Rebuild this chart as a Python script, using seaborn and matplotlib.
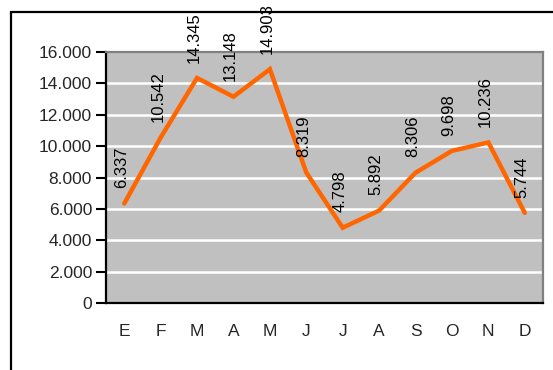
import numpy as np
import matplotlib.pyplot as plt
import matplotlib.patches as mpatches
import seaborn as sns
import pandas as pd

meses = ['E', 'F', 'M', 'A', 'M', 'J', 'J', 'A', 'S', 'O', 'N', 'D']
valores = [6337, 10542, 14345, 13148, 14903, 8319, 4798, 5892, 8306, 9698, 10236, 5744]
yticks = [0, 2000, 4000, 6000, 8000, 10000, 12000, 14000, 16000]

def miles(v):
    return f'{v:,}'.replace(',', '.')

df = pd.DataFrame({'pos': np.arange(len(meses)), 'valor': valores})

sns.set_style('white')
plt.rcParams['font.family'] = ['Liberation Sans', 'DejaVu Sans']

fig = plt.figure(figsize=(5.53, 3.70), dpi=100)
ax = fig.add_axes([106 / 553, 1 - 303 / 370, (543 - 106) / 553, (303 - 52) / 370])
ax.set_facecolor('#c0c0c0')

# marco exterior del grafico
fig.patches.append(mpatches.Rectangle((11 / 553, -0.1), 1.2, 1 - 12 / 370 + 0.1,
                                      transform=fig.transFigure, fill=False,
                                      edgecolor='black', linewidth=1.6))

for y in yticks[1:-1]:
    ax.axhline(y, color='white', linewidth=1.8, zorder=1)

sns.lineplot(data=df, x='pos', y='valor', ax=ax, color='#ff6600', linewidth=3.2,
             zorder=3, solid_capstyle='round', solid_joinstyle='miter')

for x, v in zip(df['pos'], valores):
    ax.annotate(miles(v), (x, v), xytext=(-2, 11), textcoords='offset points',
                rotation=90, ha='center', va='bottom', fontsize=12,
                color='black', annotation_clip=False)

ax.set_xlim(-0.5, len(meses) - 0.5)
ax.set_ylim(0, 16000)
ax.set_yticks(yticks)
ax.set_yticklabels([miles(v) for v in yticks], fontsize=12.5)
ax.set_xticks(np.arange(len(meses)))
ax.set_xticklabels(meses, fontsize=12.5)
ax.set_xticks(np.arange(len(meses) + 1) - 0.5, minor=True)
ax.tick_params(axis='x', which='major', length=0, pad=15)
ax.tick_params(axis='x', which='minor', length=7, width=1.5, direction='out', color='black')
ax.tick_params(axis='y', length=7, width=1.5, direction='out', color='black', pad=3, left=True)
ax.set_xlabel('')
ax.set_ylabel('')

for s in ['left', 'bottom']:
    ax.spines[s].set_color('black')
    ax.spines[s].set_linewidth(1.6)
for s in ['top', 'right']:
    ax.spines[s].set_color('#808080')
    ax.spines[s].set_linewidth(1.6)

fig.savefig('out.png', dpi=100)
